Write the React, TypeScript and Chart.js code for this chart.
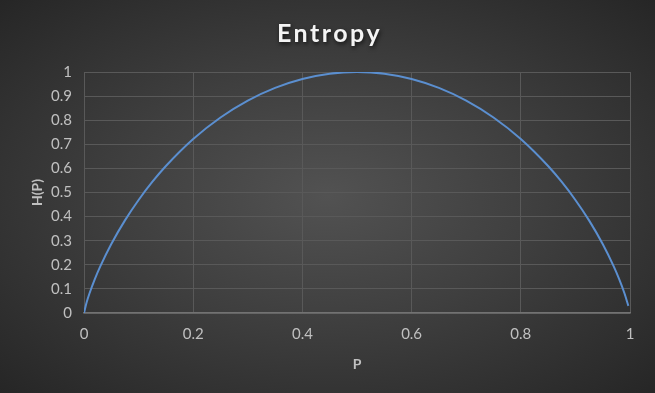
import React, { useEffect, useRef } from "react";
import { Chart, registerables } from "chart.js";

Chart.register(...registerables);

const pValues = [0, 0.005, 0.01, 0.02, 0.03, 0.05, 0.075, 0.1, 0.125, 0.15, 0.2, 0.25, 0.3, 0.35, 0.4, 0.45, 0.5, 0.55, 0.6, 0.65, 0.7, 0.75, 0.8, 0.85, 0.875, 0.9, 0.925, 0.95, 0.97, 0.98, 0.99, 0.997];
const hValues = [0, 0.0454, 0.0808, 0.1414, 0.1944, 0.2864, 0.3843, 0.469, 0.5436, 0.6098, 0.7219, 0.8113, 0.8813, 0.9341, 0.971, 0.9928, 1, 0.9928, 0.971, 0.9341, 0.8813, 0.8113, 0.7219, 0.6098, 0.5436, 0.469, 0.3843, 0.2864, 0.1944, 0.1414, 0.0808, 0.0295];
const chartTitle = "Entropy";
const xTitle = "P";
const yTitle = "H(P)";

const font = "Lato, 'Liberation Sans', sans-serif";

const titlePlugin = {
  id: "fancyTitle",
  afterDraw(chart: any) {
    const c = chart.ctx;
    c.save();
    c.font = `bold 25px ${font}`;
    (c as any).letterSpacing = "2.5px";
    c.textAlign = "center";
    c.textBaseline = "middle";
    c.shadowColor = "rgba(0,0,0,0.7)";
    c.shadowBlur = 4;
    c.shadowOffsetX = 1;
    c.shadowOffsetY = 2;
    c.fillStyle = "#f4f4f4";
    c.fillText(chartTitle, chart.width / 2 + 2, 34);
    c.restore();
  },
};

export default function App() {
  const ref = useRef<HTMLCanvasElement>(null);
  useEffect(() => {
    document.body.style.margin = "0";
    const ctx = ref.current!;
    const fmt = (v: any) => String(Math.round(Number(v) * 10) / 10);
    const chart = new Chart(ctx, {
      type: "line",
      data: {
        datasets: [
          {
            data: pValues.map((p, i) => ({ x: p, y: hValues[i] })),
            borderColor: "#5b8fd0",
            borderWidth: 2,
            pointRadius: 0,
            cubicInterpolationMode: "monotone",
            fill: false,
          },
        ],
      },
      plugins: [titlePlugin],
      options: {
        animation: false,
        responsive: false,
        maintainAspectRatio: false,
        layout: { padding: { left: 25, right: 25, top: 72, bottom: 20 } },
        plugins: {
          legend: { display: false },
          tooltip: { enabled: false },
          title: { display: false },
        },
        scales: {
          x: {
            type: "linear",
            min: 0,
            max: 1,
            ticks: { stepSize: 0.2, color: "#c0c0c0", font: { family: font, size: 15 }, padding: 12, callback: fmt },
            grid: { color: "#595959", drawTicks: false },
            border: { color: "#727272", width: 1.5 },
            title: { display: true, text: xTitle, color: "#c0c0c0", font: { family: font, size: 14, weight: "bold" }, padding: { top: 11, bottom: 0 } },
            afterFit: (s: any) => { s.height = 60; },
          },
          y: {
            min: 0,
            max: 1,
            ticks: { stepSize: 0.1, color: "#c0c0c0", font: { family: font, size: 15 }, padding: 12, callback: fmt },
            grid: { color: "#595959", drawTicks: false },
            border: { display: false },
            title: { display: true, text: yTitle, color: "#c0c0c0", font: { family: font, size: 14, weight: "bold" }, padding: { bottom: 4 } },
            afterFit: (s: any) => { s.width = 59; },
          },
        },
      },
    } as any);
    return () => chart.destroy();
  }, []);
  return (
    <div
      style={{
        width: 655,
        height: 393,
        background: "radial-gradient(ellipse at 50% 50%, #525252 0%, #3f3f3f 45%, #262626 100%)",
      }}
    >
      <canvas ref={ref} width={655} height={393} style={{ display: "block" }} />
    </div>
  );
}
